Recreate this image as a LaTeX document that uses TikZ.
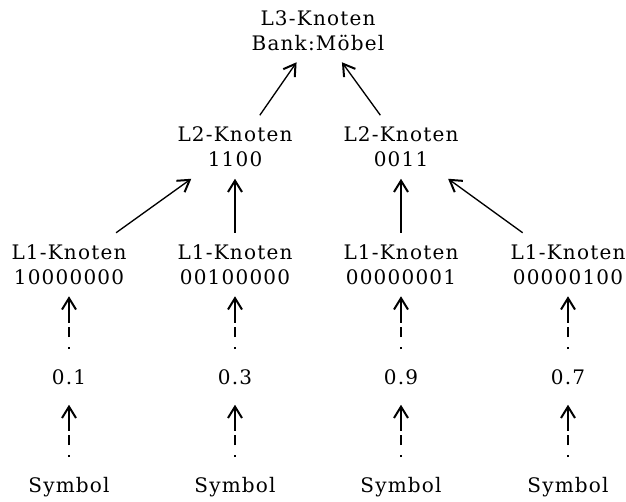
\documentclass[tikz,border=0pt]{standalone}
\usepackage{fontspec}
\setmainfont{DejaVu Serif}[LetterSpace=6]
\usetikzlibrary{arrows.meta}
\tikzset{>={Straight Barb[length=8.5pt,width=10.5pt,line width=1.5pt]}}
\tikzset{
  knoten/.style={align=center, inner sep=0pt, minimum width=95pt, minimum height=47.25pt,
    font=\fontsize{15pt}{18.75pt}\selectfont},
  wert/.style={inner sep=0pt, minimum width=60pt, minimum height=41.25pt, text depth=0pt,
    font=\fontsize{15pt}{18.75pt}\selectfont},
  kante/.style={->, line width=1pt},
  gestrichelt/.style={->, line width=1pt, dash pattern=on 2pt off 7pt on 8pt off 3pt on 60pt}
}

\begin{document}
\begin{tikzpicture}[x=0.75pt, y=-0.75pt]
\useasboundingbox (0,0) rectangle (626,502);
\node[knoten] (l3) at (318,30.5) {L3-Knoten\\Bank:Möbel};
\node[knoten] (l2a) at (235,147) {L2-Knoten\\1100};
\node[knoten] (l2b) at (401,147) {L2-Knoten\\0011};
\node[knoten] (l1a) at (69,264.5) {L1-Knoten\\10000000};
\node[knoten] (l1b) at (235,264.5) {L1-Knoten\\00100000};
\node[knoten] (l1c) at (401,264.5) {L1-Knoten\\00000001};
\node[knoten] (l1d) at (568,264.5) {L1-Knoten\\00000100};
\node[wert] (w1) at (69,377) {0.1};
\node[wert] (w2) at (235,377) {0.3};
\node[wert] (w3) at (401,377) {0.9};
\node[wert] (w4) at (568,377) {0.7};
\node[wert] (s1) at (69,485) {Symbol};
\node[wert] (s2) at (235,485) {Symbol};
\node[wert] (s3) at (401,485) {Symbol};
\node[wert] (s4) at (568,485) {Symbol};
\draw[kante] (l2a.52.7) -- (l3.236.3);
\draw[kante] (l2b.123.7) -- (l3.307.3);
\draw[kante] (l1a.34) -- (l2a.216);
\draw[kante] (l1b) -- (l2a);
\draw[kante] (l1c) -- (l2b);
\draw[kante] (l1d.145) -- (l2b.326);
\draw[gestrichelt] (w1) -- (l1a);
\draw[gestrichelt] (w2) -- (l1b);
\draw[gestrichelt] (w3) -- (l1c);
\draw[gestrichelt] (w4) -- (l1d);
\draw[gestrichelt] (s1) -- (w1);
\draw[gestrichelt] (s2) -- (w2);
\draw[gestrichelt] (s3) -- (w3);
\draw[gestrichelt] (s4) -- (w4);
\end{tikzpicture}
\end{document}
